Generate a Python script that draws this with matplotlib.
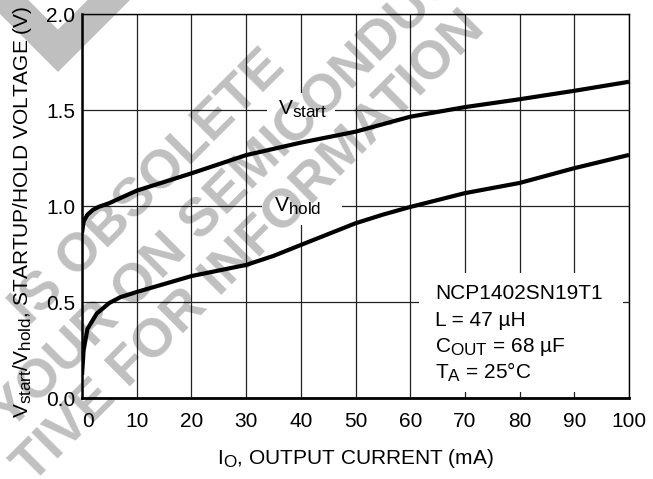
import matplotlib
matplotlib.use('Agg')
import matplotlib.pyplot as plt
import matplotlib._mathtext as mathtext_mod
from matplotlib.patches import Rectangle, Polygon

plt.rcParams['font.family'] = ['Liberation Sans', 'DejaVu Sans']
plt.rcParams['mathtext.fontset'] = 'custom'
plt.rcParams['mathtext.rm'] = 'Liberation Sans'
plt.rcParams['mathtext.it'] = 'Liberation Sans:italic'
# datasheet subscripts are only a little smaller than the base text
mathtext_mod.SHRINK_FACTOR = 0.82

# curves
i_start = [0, 0.3, 1, 2, 3, 5, 10, 20, 30, 40, 50, 60, 70, 80, 90, 100]
v_start = [0.86, 0.92, 0.955, 0.98, 0.995, 1.015, 1.08, 1.17, 1.265, 1.33,
           1.387, 1.465, 1.515, 1.556, 1.60, 1.647]

i_hold = [0, 0.3, 1, 2.7, 5, 7, 10, 20, 30, 35, 40, 50, 55, 60, 70, 80, 90, 100]
v_hold = [0.12, 0.25, 0.36, 0.44, 0.495, 0.525, 0.552, 0.635, 0.693, 0.74,
          0.797, 0.91, 0.955, 0.995, 1.067, 1.12, 1.197, 1.266]

x_ticks = list(range(0, 101, 10))
y_ticks = [0.0, 0.5, 1.0, 1.5, 2.0]

notes = ['NCP1402SN19T1', 'L = 47 µH', r'C$_{\mathrm{OUT}}$ = 68 µF',
         r'T$_{\mathrm{A}}$ = 25°C']

watermark = ['IS OBSOLETE', 'YOUR ON SEMICONDUCTOR', 'TIVE FOR INFORMATION']

W, H = 653, 479
FS = 15


def px(x, y):
    return x / W, 1 - y / H


fig = plt.figure(figsize=(W / 100, H / 100), dpi=100)
ax = fig.add_axes([82 / W, 1 - 398 / H, 547 / W, 384 / H])

ax.plot(i_start, v_start, color='black', lw=3, zorder=3, solid_capstyle='butt')
ax.plot(i_hold, v_hold, color='black', lw=3, zorder=3, solid_capstyle='butt')

ax.set_xlim(0, 100)
ax.set_ylim(0, 2)
ax.set_xticks(x_ticks)
ax.set_yticks(y_ticks)
ax.set_yticklabels(['%.1f' % v for v in y_ticks])
ax.tick_params(length=0, labelsize=FS)
ax.tick_params(axis='x', pad=10)
ax.tick_params(axis='y', pad=5)
ax.get_xticklabels()[0].set_horizontalalignment('left')
ax.set_axisbelow(True)
ax.grid(True, color='#222222', lw=0.9)

for s in ['top', 'right']:
    ax.spines[s].set_linewidth(1.0)
ax.spines['left'].set_linewidth(1.8)
ax.spines['bottom'].set_linewidth(2.0)

# white patches that break the grid behind the labels
for (x0, y0, x1, y1) in [(33.8, 1.11, 46.3, 1.59), (32.9, 0.90, 47.5, 1.11),
                         (61.6, 0.03, 98.9, 0.65)]:
    ax.add_patch(Rectangle((x0, y0), x1 - x0, y1 - y0, facecolor='white',
                           edgecolor='none', zorder=1))

ax.text(35.8, 1.474, r'V$_{\mathrm{start}}$', fontsize=FS, zorder=4)
ax.text(35.1, 0.969, r'V$_{\mathrm{hold}}$', fontsize=FS, zorder=4)

for k, t in enumerate(notes):
    ax.text(64.5, 0.516 - k * 0.139, t, fontsize=FS, va='baseline', zorder=4)

ax.set_xlabel(r'I$_{\mathrm{O}}$, OUTPUT CURRENT (mA)', fontsize=FS)
ax.xaxis.set_label_coords(0.5, -0.128)
ax.set_ylabel(r'V$_{\mathrm{start}}$/V$_{\mathrm{hold}}$, STARTUP/HOLD VOLTAGE (V)',
              fontsize=FS)
ax.yaxis.set_label_coords(-0.088, 0.485)

# grey "obsolete" watermark, drawn as translucent black so black marks stay black
wm_pos = [(148, 188), (266, 156), (250, 248)]
for t, (x, y) in zip(watermark, wm_pos):
    fig.text(*px(x, y), t, fontsize=39, fontweight='bold', color='black',
             alpha=0.25, rotation=45, rotation_mode='anchor',
             ha='center', va='center')

v0 = (58, 72)
w = 30
T = 72
r_out = (v0[0] + T, v0[1] - T)
r_in = (r_out[0] - w / 1.414, r_out[1] - w / 1.414)
v_in = (v0[0], v0[1] - w * 1.414)
chev = [v0, r_out, r_in, v_in, (v_in[0] - 90, v_in[1] - 90), (v0[0] - 90, v0[1] - 90)]
fig.patches.append(Polygon([px(*p) for p in chev], closed=True, transform=fig.transFigure,
                           facecolor='black', alpha=0.25, edgecolor='none', figure=fig))

fig.savefig('out.png', dpi=100)
